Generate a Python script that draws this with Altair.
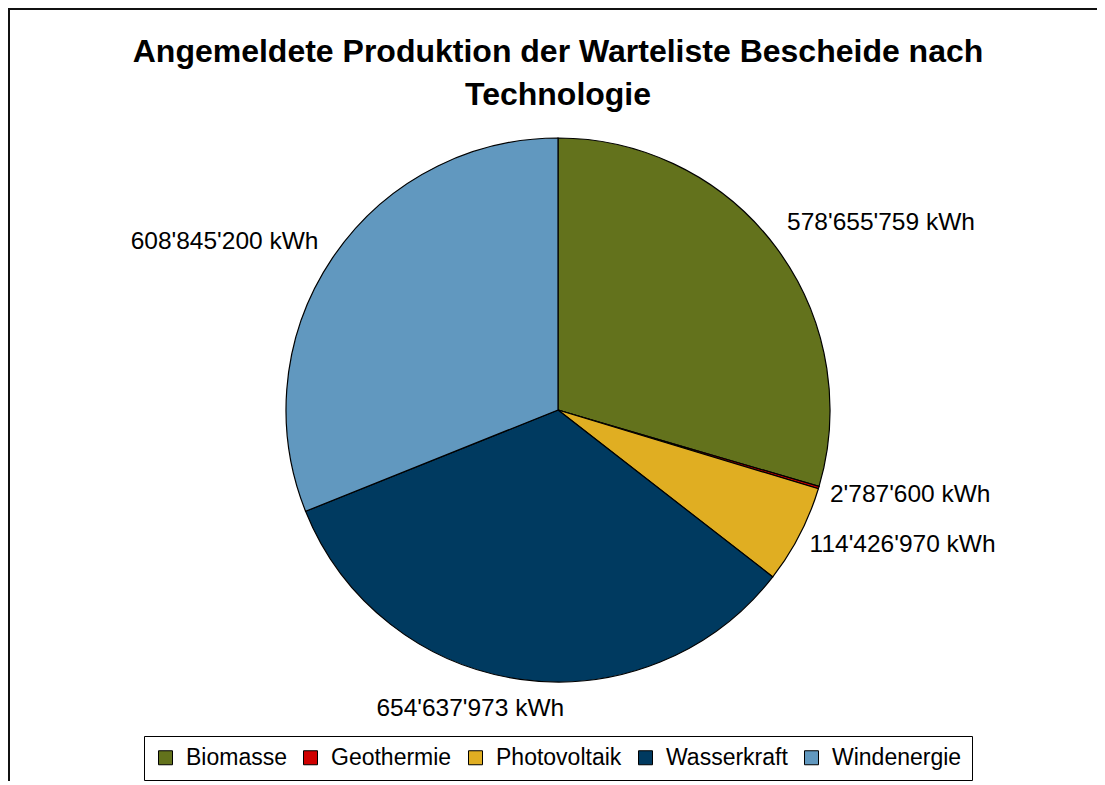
import altair as alt
import pandas as pd

# ---- data ----
technologies = ["Biomasse", "Geothermie", "Photovoltaik", "Wasserkraft", "Windenergie"]
production_kwh = [578655759, 2787600, 114426970, 654637973, 608845200]
colors = ["#63721C", "#D00000", "#E0AE22", "#003A60", "#6198BF"]
title_lines = ["Angemeldete Produktion der Warteliste Bescheide nach", "Technologie"]

df = pd.DataFrame({"tech": technologies, "value": production_kwh})
df["idx"] = range(len(df))
df["mid"] = df["value"].cumsum() - df["value"] / 2
df["label"] = [f"{v:,}".replace(",", "'") + " kWh" for v in df["value"]]

W, H = 1089, 773
CX, CY, R = 550, 402, 272
FONT = "Liberation Sans"
LABEL_SIZE = 24.5

base = alt.Chart(df)

pie = base.mark_arc(outerRadius=R, x=CX, y=CY, stroke="black", strokeWidth=1.2).encode(
    theta=alt.Theta("value:Q", stack=True),
    order=alt.Order("idx:Q"),
    color=alt.Color(
        "tech:N",
        scale=alt.Scale(domain=technologies, range=colors),
        sort=technologies,
        legend=alt.Legend(
            title=None,
            orient="none",
            direction="horizontal",
            legendX=136,
            legendY=728,
            fillColor="white",
            strokeColor="black",
            padding=10,
            symbolType="square",
            symbolSize=196,
            symbolStrokeColor="black",
            symbolStrokeWidth=1,
            symbolOpacity=1,
            labelFont=FONT,
            labelFontSize=23,
            labelColor="black",
            labelOffset=9,
            columnPadding=12,
        ),
    ),
)

def label_layer(names, align, radius, dx=0, dy=0):
    return base.transform_filter(
        alt.FieldOneOfPredicate(field="tech", oneOf=names)
    ).mark_text(
        x=CX, y=CY, radius=radius, align=align, baseline="middle",
        font=FONT, fontSize=LABEL_SIZE, color="black", dx=dx, dy=dy,
    ).encode(
        theta=alt.Theta("mid:Q", stack=False),
        text="label:N",
    )

labels_bio = label_layer(["Biomasse"], "left", 290, dx=-3, dy=-13)
labels_right = label_layer(["Geothermie", "Photovoltaik"], "left", 290, dx=-6, dy=2)
labels_left = label_layer(["Windenergie"], "right", 300, dx=9)
labels_bottom = label_layer(["Wasserkraft"], "center", 300, dx=-46, dy=2)

title_df = pd.DataFrame({"line": title_lines, "row": [0, 1]})
title = alt.Chart(title_df).mark_text(
    font=FONT, fontSize=32, fontWeight="bold", align="center", baseline="middle", color="black"
).encode(
    text="line:N",
    x=alt.value(CX),
    y=alt.Y("row:Q", scale=alt.Scale(domain=[0, 1], range=[44, 87]), axis=None),
)

border_left = alt.Chart(title_df.head(1)).mark_rule(color="#111", strokeWidth=2).encode(
    x=alt.value(1), y=alt.value(0), y2=alt.value(H)
)
border_top = alt.Chart(title_df.head(1)).mark_rule(color="#111", strokeWidth=2).encode(
    x=alt.value(0), x2=alt.value(W), y=alt.value(1)
)

chart = alt.layer(
    border_left, border_top, pie, labels_bio, labels_right, labels_left, labels_bottom, title
).resolve_scale(y="independent").properties(
    width=W, height=H, autosize=alt.AutoSizeParams(type="none"), padding=0
).configure_view(stroke=None).configure(background="white")

chart.save("out.html", embed_options={"renderer": "svg", "actions": False})
